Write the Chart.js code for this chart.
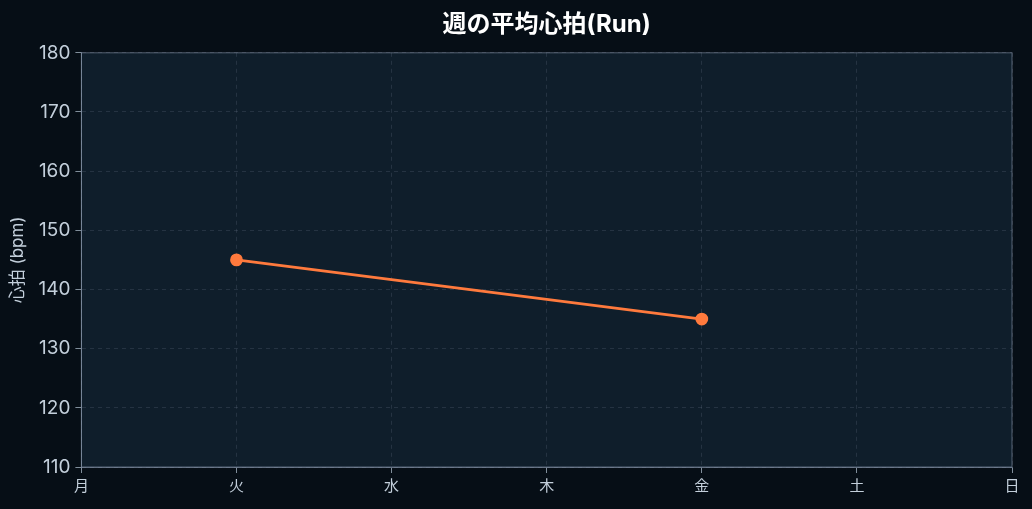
<!DOCTYPE html>
<html>
<head>
<meta charset="utf-8">
<script src="https://cdn.jsdelivr.net/npm/chart.js@4.4.1/dist/chart.umd.min.js"></script>
<style>
  html, body { margin: 0; padding: 0; background: #060e16; }
  #wrap { width: 1032px; height: 509px; }
</style>
</head>
<body>
<div id="wrap"><canvas id="myChart"></canvas></div>
<script>
// 曜日と心拍データ
const days = ['月', '火', '水', '木', '金', '土', '日'];
const heartRate = [null, 145, null, null, 135, null, null];
const yTicks = [110, 120, 130, 140, 150, 160, 170, 180];

const fontFamily = "Inter, 'Noto Sans CJK JP', sans-serif";

// プロット領域の背景と枠
const plotBg = {
  id: 'plotBg',
  beforeDraw(chart) {
    const { ctx, chartArea: a } = chart;
    ctx.save();
    ctx.fillStyle = '#0f1e2b';
    ctx.fillRect(a.left, a.top, a.right - a.left, a.bottom - a.top);
    ctx.restore();
  },
  afterDatasetsDraw(chart) {
    const { ctx, chartArea: a } = chart;
    ctx.save();
    ctx.setLineDash([]);
    ctx.strokeStyle = 'rgba(148,163,184,0.55)';
    ctx.lineWidth = 1;
    ctx.strokeRect(a.left, a.top, a.right - a.left, a.bottom - a.top);
    ctx.restore();
  }
};

const gridOpts = {
  color: 'rgba(148,163,184,0.17)',
  tickColor: 'rgba(170,185,200,0.75)',
  tickBorderDash: [],
  tickLength: 6
};

const config = {
  type: 'line',
  data: {
    labels: days,
    datasets: [{
      label: '心拍',
      data: heartRate,
      borderColor: '#ff7a3d',
      backgroundColor: '#ff7a3d',
      borderWidth: 2.8,
      pointRadius: 5,
      pointHoverRadius: 5,
      spanGaps: true,
      tension: 0
    }]
  },
  options: {
    responsive: true,
    maintainAspectRatio: false,
    animation: false,
    layout: { padding: { left: 8, right: 20, top: 4, bottom: 10 } },
    plugins: {
      legend: { display: false },
      tooltip: { enabled: false },
      title: {
        display: true,
        fullSize: false,
        text: '週の平均心拍(Run)',
        color: '#ffffff',
        font: { family: fontFamily, size: 24, weight: 'bold' },
        padding: { top: 6, bottom: 14 }
      }
    },
    scales: {
      x: {
        offset: false,
        grid: gridOpts,
        border: { color: 'rgba(148,163,184,0.55)', dash: [4, 4] },
        ticks: { color: '#c3cfdb', font: { family: fontFamily, size: 15 }, padding: 4 }
      },
      y: {
        min: 110,
        max: 180,
        afterBuildTicks(axis) {
          axis.ticks = yTicks.map(v => ({ value: v }));
        },
        grid: gridOpts,
        border: { color: 'rgba(148,163,184,0.55)', dash: [4, 4] },
        ticks: { color: '#c3cfdb', font: { family: fontFamily, size: 19 }, padding: 5 },
        title: {
          display: true,
          text: '心拍 (bpm)',
          color: '#c3cfdb',
          font: { family: fontFamily, size: 17 },
          padding: { top: 0, bottom: 5 }
        }
      }
    }
  },
  plugins: [plotBg]
};

const myChart = new Chart(document.getElementById('myChart'), config);
</script>
</body>
</html>
